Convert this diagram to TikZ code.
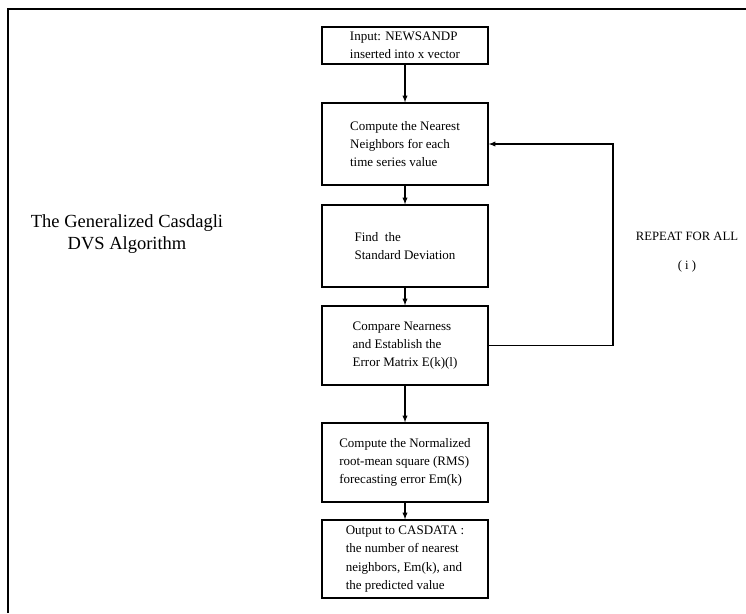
\documentclass[tikz,border=0pt]{standalone}
\usepackage{fontspec}
\setmainfont{Liberation Serif}
\usepackage{tikz}

\begin{document}
\begin{tikzpicture}[x=1pt, y=-1pt, >=latex]
\tikzset{stepbox/.style={draw, line width=1.3pt, minimum width=166pt, align=left,
  inner sep=0pt, font=\fontsize{13}{18.3}\selectfont}}
\useasboundingbox (0,0) rectangle (746,613);
% frame
\draw[line width=1.6pt] (8,613) -- (8,9) -- (746,9);

\node[stepbox, minimum height=37pt] (input) at (405, 45.5) {Input: NEWSANDP\\inserted into x vector};
\node[stepbox, minimum height=82pt] (near) at (405, 144) {Compute the Nearest\\Neighbors for each\\time series value};
\node[stepbox, minimum height=82pt] (dev) at (405, 246) {Find\ \ the\\Standard Deviation};
\node[stepbox, minimum height=79pt] (comp) at (405, 345.5) {Compare Nearness\\and Establish the\\Error Matrix E(k)(l)};
\node[stepbox, minimum height=79pt] (rms) at (405, 462.5) {Compute the Normalized\\root-mean square (RMS)\\forecasting error Em(k)};
\node[stepbox, minimum height=78pt] (out) at (405, 559) {Output to CASDATA\ :\\the number of nearest\\neighbors, Em(k), and\\the predicted value};

\node[align=center, font=\fontsize{18.5}{22}\selectfont] (title) at (127, 234) {The Generalized Casdagli\\DVS Algorithm};
\node[align=center, font=\fontsize{12.7}{29}\selectfont] (repeat) at (687, 252) {REPEAT FOR ALL\\( i )};

\draw[->, line width=1.3pt] (input) -- (near);
\draw[->, line width=1.3pt] (near) -- (dev);
\draw[->, line width=1.3pt] (dev) -- (comp);
\draw[->, line width=1.3pt] (comp) -- (rms);
\draw[->, line width=1.3pt] (rms) -- (out);
\draw[->, line width=1.3pt] (comp.east) -- (613, 345.5) -- (613, 144) -- (near.east);
\end{tikzpicture}
\end{document}
